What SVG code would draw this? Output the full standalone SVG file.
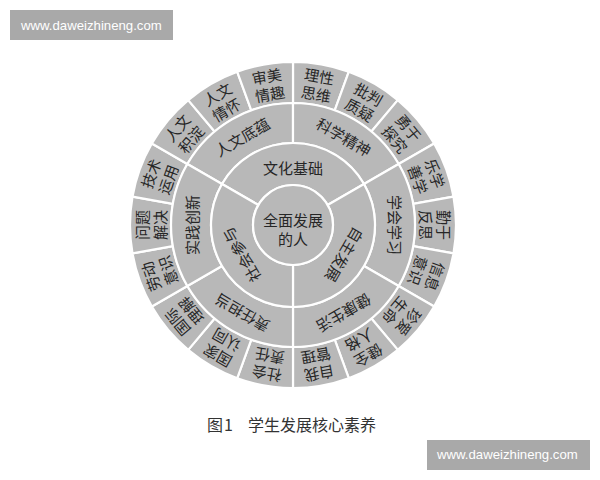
<svg xmlns="http://www.w3.org/2000/svg" width="600" height="480" viewBox="0 0 600 480">
<style>
.seg{fill:#b8b8b8;stroke:#ffffff;stroke-width:2.2;stroke-linejoin:round}
.t{font-family:"Noto Sans CJK SC","Noto Sans CJK JP",sans-serif;font-size:15px;fill:#262626;text-anchor:middle;dominant-baseline:central}
.wm{fill:#a9a9a9}
.wmt{font-family:"Liberation Sans",Arial,sans-serif;font-size:13.2px;fill:#ffffff}
.cap{font-family:"Noto Sans CJK SC",sans-serif;font-size:16px;fill:#333333}
</style>
<rect width="600" height="480" fill="#ffffff"/>
<g id="watermark-top"><rect class="wm" x="10" y="10" width="163" height="30"/><text class="wmt" x="21" y="30">www.daweizhineng.com</text></g>
<g id="watermark-bottom"><rect class="wm" x="427" y="440" width="163" height="30"/><text class="wmt" x="437" y="459">www.daweizhineng.com</text></g>

<g id="outer-ring">
<g id="n-lixing"><path class="seg" d="M293,62 A163,163 0 0 1 348.75,71.83 L334.72,110.36 A122,122 0 0 0 293,103 Z"/><g transform="translate(317.74,84.67) rotate(10)"><text class="t" y="-9">理性</text><text class="t" y="9">思维</text></g></g>
<g id="n-pipan"><path class="seg" d="M348.75,71.83 A163,163 0 0 1 397.78,100.14 L371.42,131.55 A122,122 0 0 0 334.72,110.36 Z"/><g transform="translate(364.25,101.59) rotate(30)"><text class="t" y="-9">批判</text><text class="t" y="9">质疑</text></g></g>
<g id="n-yongyu"><path class="seg" d="M397.78,100.14 A163,163 0 0 1 434.16,143.5 L398.65,164 A122,122 0 0 0 371.42,131.55 Z"/><g transform="translate(402.16,133.4) rotate(50)"><text class="t" y="-9">勇于</text><text class="t" y="9">探究</text></g></g>
<g id="n-lexue"><path class="seg" d="M434.16,143.5 A163,163 0 0 1 453.52,196.7 L413.15,203.82 A122,122 0 0 0 398.65,164 Z"/><g transform="translate(426.91,176.26) rotate(70)"><text class="t" y="-9">乐学</text><text class="t" y="9">善学</text></g></g>
<g id="n-qinyu"><path class="seg" d="M453.52,196.7 A163,163 0 0 1 453.52,253.3 L413.15,246.18 A122,122 0 0 0 413.15,203.82 Z"/><g transform="translate(435.5,225) rotate(90)"><text class="t" y="-9">勤于</text><text class="t" y="9">反思</text></g></g>
<g id="n-xinxi"><path class="seg" d="M453.52,253.3 A163,163 0 0 1 434.16,306.5 L398.65,286 A122,122 0 0 0 413.15,246.18 Z"/><g transform="translate(426.91,273.74) rotate(110)"><text class="t" y="-9">信息</text><text class="t" y="9">意识</text></g></g>
<g id="n-zhenai"><path class="seg" d="M434.16,306.5 A163,163 0 0 1 397.78,349.86 L371.42,318.45 A122,122 0 0 0 398.65,286 Z"/><g transform="translate(402.16,316.6) rotate(130)"><text class="t" y="-9">珍爱</text><text class="t" y="9">生命</text></g></g>
<g id="n-jianquan"><path class="seg" d="M397.78,349.86 A163,163 0 0 1 348.75,378.17 L334.72,339.64 A122,122 0 0 0 371.42,318.45 Z"/><g transform="translate(364.25,348.4) rotate(150)"><text class="t" y="-9">健全</text><text class="t" y="9">人格</text></g></g>
<g id="n-ziwo"><path class="seg" d="M348.75,378.17 A163,163 0 0 1 293,388 L293,347 A122,122 0 0 0 334.72,339.64 Z"/><g transform="translate(317.74,365.33) rotate(170)"><text class="t" y="-9">自我</text><text class="t" y="9">管理</text></g></g>
<g id="n-shehui"><path class="seg" d="M293,388 A163,163 0 0 1 237.25,378.17 L251.28,339.64 A122,122 0 0 0 293,347 Z"/><g transform="translate(268.26,365.33) rotate(190)"><text class="t" y="-9">社会</text><text class="t" y="9">责任</text></g></g>
<g id="n-guojia"><path class="seg" d="M237.25,378.17 A163,163 0 0 1 188.22,349.86 L214.58,318.45 A122,122 0 0 0 251.28,339.64 Z"/><g transform="translate(221.75,348.4) rotate(210)"><text class="t" y="-9">国家</text><text class="t" y="9">认同</text></g></g>
<g id="n-guoji"><path class="seg" d="M188.22,349.86 A163,163 0 0 1 151.84,306.5 L187.35,286 A122,122 0 0 0 214.58,318.45 Z"/><g transform="translate(183.84,316.6) rotate(230)"><text class="t" y="-9">国际</text><text class="t" y="9">理解</text></g></g>
<g id="n-laodong"><path class="seg" d="M151.84,306.5 A163,163 0 0 1 132.48,253.3 L172.85,246.18 A122,122 0 0 0 187.35,286 Z"/><g transform="translate(159.09,273.74) rotate(250)"><text class="t" y="-9">劳动</text><text class="t" y="9">意识</text></g></g>
<g id="n-wenti"><path class="seg" d="M132.48,253.3 A163,163 0 0 1 132.48,196.7 L172.85,203.82 A122,122 0 0 0 172.85,246.18 Z"/><g transform="translate(150.5,225) rotate(270)"><text class="t" y="-9">问题</text><text class="t" y="9">解决</text></g></g>
<g id="n-jishu"><path class="seg" d="M132.48,196.7 A163,163 0 0 1 151.84,143.5 L187.35,164 A122,122 0 0 0 172.85,203.82 Z"/><g transform="translate(159.09,176.26) rotate(290)"><text class="t" y="-9">技术</text><text class="t" y="9">运用</text></g></g>
<g id="n-jidian"><path class="seg" d="M151.84,143.5 A163,163 0 0 1 188.22,100.14 L214.58,131.55 A122,122 0 0 0 187.35,164 Z"/><g transform="translate(183.84,133.4) rotate(310)"><text class="t" y="-9">人文</text><text class="t" y="9">积淀</text></g></g>
<g id="n-qinghuai"><path class="seg" d="M188.22,100.14 A163,163 0 0 1 237.25,71.83 L251.28,110.36 A122,122 0 0 0 214.58,131.55 Z"/><g transform="translate(221.75,101.59) rotate(330)"><text class="t" y="-9">人文</text><text class="t" y="9">情怀</text></g></g>
<g id="n-shenmei"><path class="seg" d="M237.25,71.83 A163,163 0 0 1 293,62 L293,103 A122,122 0 0 0 251.28,110.36 Z"/><g transform="translate(268.26,84.67) rotate(350)"><text class="t" y="-9">审美</text><text class="t" y="9">情趣</text></g></g>
</g>

<g id="middle-ring">
<g id="n-renwen"><path class="seg" d="M187.35,164 A122,122 0 0 1 293,103 L293,143 A82,82 0 0 0 221.99,184 Z"/><text class="t" transform="translate(242,136.67) rotate(-30)">人文底蕴</text></g>
<g id="n-kexue"><path class="seg" d="M293,103 A122,122 0 0 1 398.65,164 L364.01,184 A82,82 0 0 0 293,143 Z"/><text class="t" transform="translate(344,136.67) rotate(30)">科学精神</text></g>
<g id="n-xuehui"><path class="seg" d="M398.65,164 A122,122 0 0 1 398.65,286 L364.01,266 A82,82 0 0 0 364.01,184 Z"/><text class="t" transform="translate(395,225) rotate(90)">学会学习</text></g>
<g id="n-jiankang"><path class="seg" d="M398.65,286 A122,122 0 0 1 293,347 L293,307 A82,82 0 0 0 364.01,266 Z"/><text class="t" transform="translate(344,313.33) rotate(150)">健康生活</text></g>
<g id="n-zeren"><path class="seg" d="M293,347 A122,122 0 0 1 187.35,286 L221.99,266 A82,82 0 0 0 293,307 Z"/><text class="t" transform="translate(242,313.33) rotate(210)">责任担当</text></g>
<g id="n-shijian"><path class="seg" d="M187.35,286 A122,122 0 0 1 187.35,164 L221.99,184 A82,82 0 0 0 221.99,266 Z"/><text class="t" transform="translate(191,225) rotate(270)">实践创新</text></g>
</g>

<g id="inner-ring">
<g id="n-wenhua"><path class="seg" d="M221.99,184 A82,82 0 0 1 364.01,184 L327.64,205 A40,40 0 0 0 258.36,205 Z"/><text class="t" transform="translate(293,167)">文化基础</text></g>
<g id="n-zizhu"><path class="seg" d="M364.01,184 A82,82 0 0 1 293,307 L293,265 A40,40 0 0 0 327.64,205 Z"/><text class="t" transform="translate(344.96,255) rotate(120)">自主发展</text></g>
<g id="n-canyu"><path class="seg" d="M293,307 A82,82 0 0 1 221.99,184 L258.36,205 A40,40 0 0 0 293,265 Z"/><text class="t" transform="translate(241.04,255) rotate(240)">社会参与</text></g>
</g>

<g id="n-center"><circle class="seg" cx="293" cy="225" r="40"/><text class="t" x="293" y="219">全面发展</text><text class="t" x="293" y="238">的人</text></g>

<g id="connectors"></g>

<text class="cap" y="431"><tspan x="207">图</tspan><tspan x="224">1</tspan><tspan x="248">学生发展核心素养</tspan></text>
</svg>
